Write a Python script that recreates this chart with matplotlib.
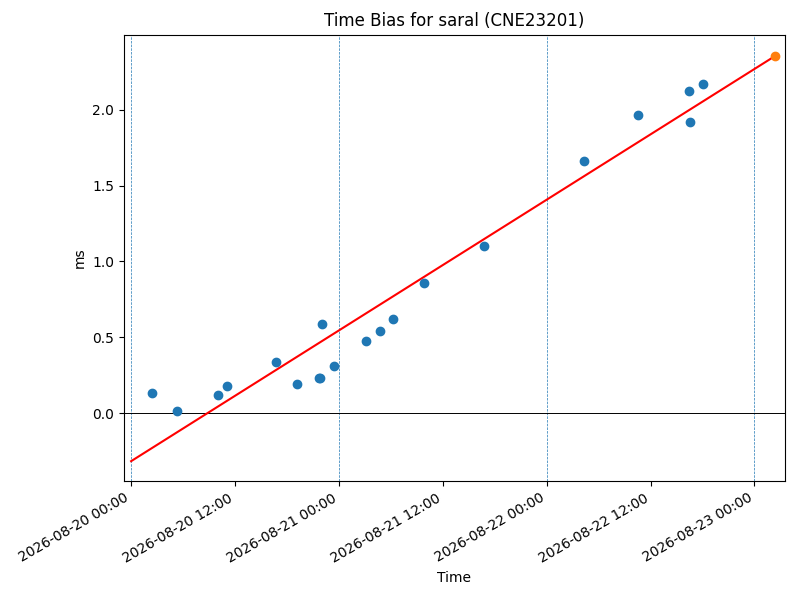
import matplotlib
matplotlib.use("Agg")
import matplotlib.pyplot as plt
import matplotlib.dates as mdates
import numpy as np
import pandas as pd

# Observation times (hours since 2026-08-20 00:00) and time bias (ms)
obs_hours = [2.42, 5.3, 10.0, 11.08, 16.7, 19.15, 21.65, 21.78, 22.0, 23.4,
             27.1, 28.7, 30.3, 33.8, 40.8, 52.3, 58.6, 64.4, 64.6, 66.0]
bias_ms = [0.132, 0.013, 0.119, 0.178, 0.337, 0.191, 0.231, 0.232, 0.587, 0.31,
           0.475, 0.541, 0.62, 0.858, 1.102, 1.663, 1.967, 2.125, 1.921, 2.172]

# Fit line endpoints / prediction
fit_hours = [0.0, 74.4]
fit_ms = [-0.317, 2.356]
pred_hours = [74.4]
pred_ms = [2.356]

midnights = ["2026-08-20", "2026-08-21", "2026-08-22", "2026-08-23"]

t0 = pd.Timestamp("2026-08-20 00:00")
obs_t = [t0 + pd.Timedelta(hours=h) for h in obs_hours]
fit_t = [t0 + pd.Timedelta(hours=h) for h in fit_hours]
pred_t = [t0 + pd.Timedelta(hours=h) for h in pred_hours]

fig, ax = plt.subplots(figsize=(8, 6), dpi=100)
fig.subplots_adjust(left=0.155, right=0.981, top=0.942, bottom=0.198)

for m in midnights:
    ax.axvline(pd.Timestamp(m), color="#1f77b4", linestyle="--", linewidth=0.5)
ax.axhline(0, color="black", linewidth=0.7)

ax.scatter(obs_t, bias_ms, color="C0", zorder=3)
ax.plot(fit_t, fit_ms, color="red")
ax.scatter(pred_t, pred_ms, color="C1", zorder=3)

ax.set_xlim(t0 - pd.Timedelta(hours=0.82), t0 + pd.Timedelta(hours=75.5))
ax.set_ylim(-0.449, 2.495)
ax.xaxis.set_major_locator(mdates.HourLocator(byhour=[0, 12]))
ax.xaxis.set_major_formatter(mdates.DateFormatter("%Y-%m-%d %H:%M"))
for lbl in ax.get_xticklabels():
    lbl.set_rotation(30)
    lbl.set_ha("right")

ax.set_title("Time Bias for saral (CNE23201)")
ax.set_xlabel("Time")
ax.set_ylabel("ms")

fig.savefig("out.png", dpi=100)
